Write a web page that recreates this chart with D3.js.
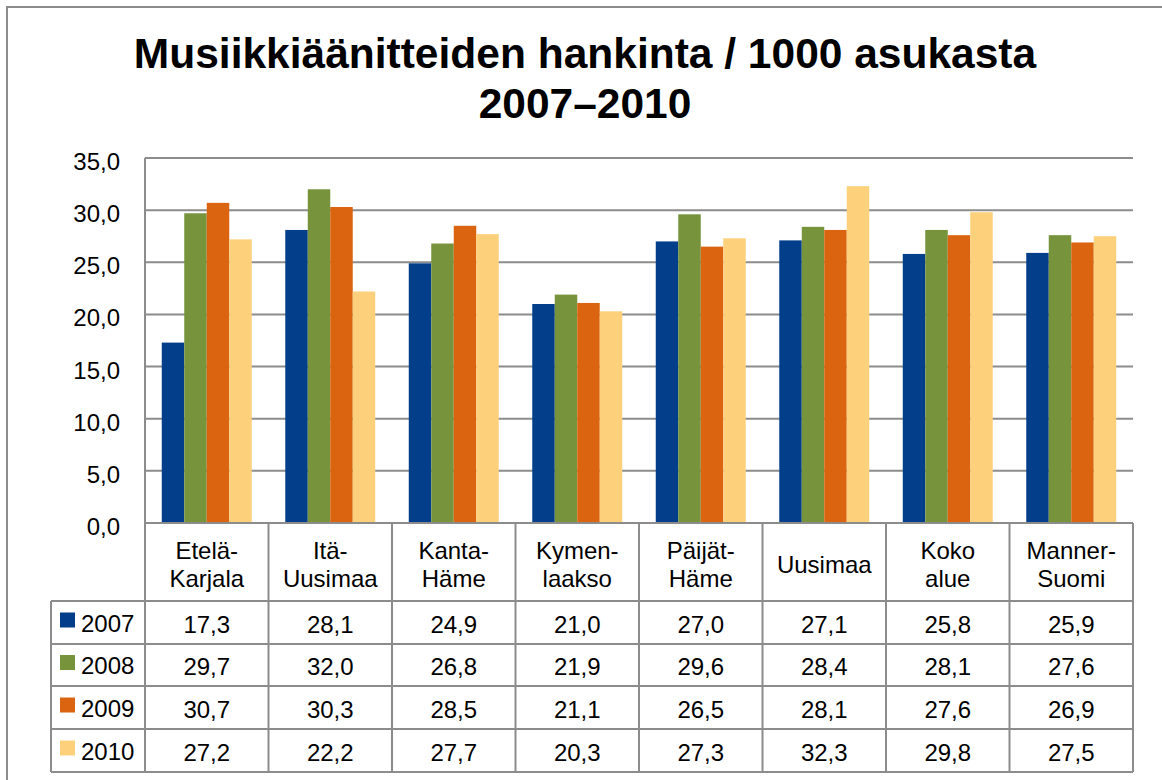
<!DOCTYPE html>
<html><head><meta charset="utf-8">
<script src="https://cdn.jsdelivr.net/npm/d3@7"></script>
<style>body{margin:0;background:#fff;} svg{display:block;}</style>
</head><body>
<svg id="c" width="1162" height="780"></svg>
<script>
const categories = [["Etelä-","Karjala"],["Itä-","Uusimaa"],["Kanta-","Häme"],["Kymen-","laakso"],["Päijät-","Häme"],["Uusimaa"],["Koko","alue"],["Manner-","Suomi"]];
const seriesNames = ["2007","2008","2009","2010"];
const v2007 = [17.3,28.1,24.9,21.0,27.0,27.1,25.8,25.9];
const v2008 = [29.7,32.0,26.8,21.9,29.6,28.4,28.1,27.6];
const v2009 = [30.7,30.3,28.5,21.1,26.5,28.1,27.6,26.9];
const v2010 = [27.2,22.2,27.7,20.3,27.3,32.3,29.8,27.5];
const yTicks = [0,5,10,15,20,25,30,35];
const colors = ["#023e8a","#77933c","#db6410","#fdd17c"];
const series = [v2007,v2008,v2009,v2010];
const titleLines = ["Musiikkiäänitteiden hankinta / 1000 asukasta","2007–2010"];

const svg = d3.select("#c");
const font = "'Liberation Sans', Arial, sans-serif";
const L = 145, R = 1133, T = 158, B = 523;
const tableLeft = 51;
const headerBottom = 601;
const rowEdges = [601,644,686,729,772];

// outer border
svg.append("rect").attr("x",7).attr("y",7).attr("width",1170).attr("height",800)
  .attr("fill","none").attr("stroke","#8c8c8c").attr("stroke-width",2);

// title
svg.append("g").selectAll("text").data(titleLines).join("text")
  .attr("x",585).attr("y",(d,i)=>68+i*50)
  .attr("text-anchor","middle").attr("font-family",font).attr("font-weight","bold")
  .attr("font-size",42.5).attr("fill","#000").text(d=>d);

const x = d3.scaleBand().domain(d3.range(categories.length)).range([L,R]).paddingInner(0).paddingOuter(0);
const x1 = d3.scaleBand().domain(d3.range(seriesNames.length)).range([0,x.bandwidth()]).paddingInner(0).paddingOuter(0.745);
const y = d3.scaleLinear().domain([0,35]).range([B,T]);

// gridlines
svg.append("g").selectAll("line").data(yTicks).join("line")
  .attr("x1",L).attr("x2",R).attr("y1",d=>y(d)).attr("y2",d=>y(d))
  .attr("stroke","#8c8c8c").attr("stroke-width",2);

// y labels
const fmt = d => d3.format(".1f")(d).replace(".",",");
svg.append("g").selectAll("text").data(yTicks).join("text")
  .attr("x",120).attr("y",d=>y(d)+12).attr("text-anchor","end")
  .attr("font-family",font).attr("font-size",24).attr("fill","#000").text(fmt);

// bars
series.forEach((vals,si)=>{
  svg.append("g").selectAll("rect").data(vals).join("rect")
    .attr("x",(d,i)=>x(i)+x1(si)).attr("width",x1.bandwidth())
    .attr("y",d=>y(d)).attr("height",d=>y(0)-y(d)).attr("fill",colors[si]);
});

// table lines
const tg = svg.append("g").attr("stroke","#8c8c8c").attr("stroke-width",2);
tg.append("line").attr("x1",L).attr("x2",R).attr("y1",B).attr("y2",B);
rowEdges.forEach(yy=>{
  tg.append("line").attr("x1",tableLeft).attr("x2",R).attr("y1",yy).attr("y2",yy);
});
tg.append("line").attr("x1",tableLeft).attr("x2",tableLeft).attr("y1",headerBottom).attr("y2",772);
tg.append("line").attr("x1",L).attr("x2",L).attr("y1",T).attr("y2",772);
d3.range(categories.length).forEach(i=>{
  const xx = x(i)+x.bandwidth();
  tg.append("line").attr("x1",xx).attr("x2",xx).attr("y1",B).attr("y2",772);
});

// category labels
const cg = svg.append("g");
categories.forEach((lines,i)=>{
  const cx = x(i)+x.bandwidth()/2;
  const n = lines.length;
  lines.forEach((t,j)=>{
    cg.append("text").attr("x",cx).attr("y",(B+headerBottom)/2 + 11 + (j-(n-1)/2)*28)
      .attr("text-anchor","middle").attr("font-family",font).attr("font-size",24).attr("fill","#000").text(t);
  });
});

// legend rows and values
series.forEach((vals,si)=>{
  const ry0 = rowEdges[si], ry1 = rowEdges[si+1];
  const cy = (ry0+ry1)/2;
  svg.append("rect").attr("x",60).attr("y",cy-10).attr("width",15).attr("height",15).attr("fill",colors[si]);
  svg.append("text").attr("x",81).attr("y",cy+9).attr("font-family",font).attr("font-size",24).attr("fill","#000").text(seriesNames[si]);
  svg.append("g").selectAll("text").data(vals).join("text")
    .attr("x",(d,i)=>x(i)+x.bandwidth()/2).attr("y",cy+10).attr("text-anchor","middle")
    .attr("font-family",font).attr("font-size",24).attr("fill","#000").text(fmt);
});
</script>
</body></html>
